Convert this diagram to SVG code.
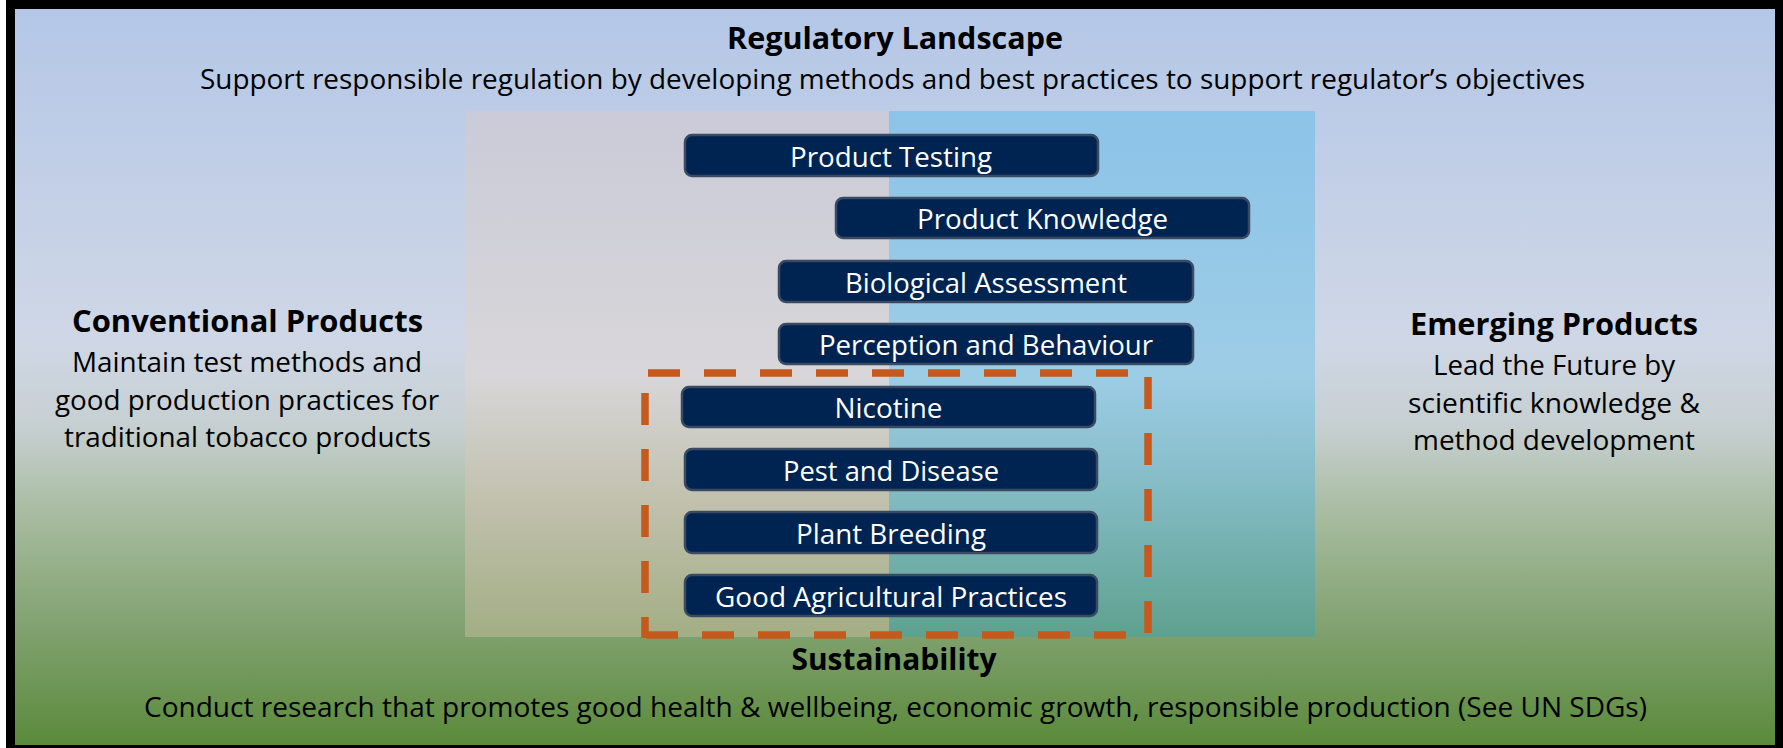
<svg xmlns="http://www.w3.org/2000/svg" width="1783" height="748" viewBox="0 0 1783 748">
<defs>
<linearGradient id="bg" x1="0" y1="9" x2="0" y2="745" gradientUnits="userSpaceOnUse">
<stop offset="0" stop-color="#b4c7e7"/>
<stop offset="0.45" stop-color="#cfd7e6"/>
<stop offset="0.57" stop-color="#c6cfd0"/>
<stop offset="0.68" stop-color="#a9bda2"/>
<stop offset="0.85" stop-color="#7fa06d"/>
<stop offset="1" stop-color="#5a8a3a"/>
</linearGradient>
<linearGradient id="pl" x1="0" y1="111" x2="0" y2="637" gradientUnits="userSpaceOnUse">
<stop offset="0" stop-color="#cacbd8"/>
<stop offset="0.5" stop-color="#d8d6d9"/>
<stop offset="0.75" stop-color="#c0c0ac"/>
<stop offset="1" stop-color="#a2ae84"/>
</linearGradient>
<linearGradient id="pr" x1="0" y1="111" x2="0" y2="637" gradientUnits="userSpaceOnUse">
<stop offset="0" stop-color="#8cc3e8"/>
<stop offset="0.5" stop-color="#9dcde6"/>
<stop offset="0.7" stop-color="#86bdc8"/>
<stop offset="1" stop-color="#5ea18f"/>
</linearGradient>
</defs>
<style>
.t{font-family:"Open Sans","Noto Sans",sans-serif;fill:#000;font-size:27.5px;text-anchor:middle}
.h{font-family:"Open Sans","Noto Sans",sans-serif;fill:#000;font-size:30px;font-weight:bold;text-anchor:middle}
.bx{fill:#002451;stroke:#3b4a62;stroke-width:2.5}
.bt{font-family:"Open Sans","Noto Sans",sans-serif;fill:#fff;font-size:27.5px;text-anchor:middle}
.dash{fill:none;stroke:#c55a1c;stroke-width:7.5;stroke-dasharray:32 24}
</style>
<rect x="0" y="0" width="1783" height="748" fill="#fff"/>
<rect x="6" y="0" width="1777" height="748" fill="#000"/>
<rect x="15" y="9" width="1760" height="736" fill="url(#bg)"/>
<g id="panel">
<rect x="465" y="111" width="424" height="526" fill="url(#pl)"/>
<rect x="889" y="111" width="426" height="526" fill="url(#pr)"/>
</g>
<g id="regulatory">
<text class="h" x="895" y="49" textLength="336" lengthAdjust="spacingAndGlyphs">Regulatory Landscape</text>
<text class="t" x="892.5" y="89" textLength="1385" lengthAdjust="spacingAndGlyphs">Support responsible regulation by developing methods and best practices to support regulator’s objectives</text>
</g>
<g id="conventional">
<text class="h" x="247.5" y="332" textLength="351" lengthAdjust="spacingAndGlyphs">Conventional Products</text>
<text class="t" x="247" y="372" textLength="350" lengthAdjust="spacingAndGlyphs">Maintain test methods and</text>
<text class="t" x="247" y="410" textLength="384" lengthAdjust="spacingAndGlyphs">good production practices for</text>
<text class="t" x="247.5" y="447" textLength="367" lengthAdjust="spacingAndGlyphs">traditional tobacco products</text>
</g>
<g id="emerging">
<text class="h" x="1554" y="335" textLength="288" lengthAdjust="spacingAndGlyphs">Emerging Products</text>
<text class="t" x="1554" y="375" textLength="242" lengthAdjust="spacingAndGlyphs">Lead the Future by</text>
<text class="t" x="1554" y="413" textLength="292" lengthAdjust="spacingAndGlyphs">scientific knowledge &amp;</text>
<text class="t" x="1554" y="450" textLength="282" lengthAdjust="spacingAndGlyphs">method development</text>
</g>
<g id="sustainability">
<text class="h" x="894" y="670" textLength="205" lengthAdjust="spacingAndGlyphs">Sustainability</text>
<text class="t" x="895.5" y="717" textLength="1503" lengthAdjust="spacingAndGlyphs">Conduct research that promotes good health &amp; wellbeing, economic growth, responsible production (See UN SDGs)</text>
</g>
<g id="connectors">
<path class="dash" d="M648,373 H1130"/>
<path class="dash" d="M1148,377 V634"/>
<path class="dash" d="M646,635 H1128"/>
<path class="dash" d="M645,393 V638"/>
</g>
<g id="product-testing">
<rect class="bx" x="685" y="135" width="413" height="41" rx="7"/>
<text class="bt" x="891" y="166.5" textLength="202" lengthAdjust="spacingAndGlyphs">Product Testing</text>
</g>
<g id="product-knowledge">
<rect class="bx" x="836" y="198" width="413" height="40" rx="7"/>
<text class="bt" x="1042.5" y="229" textLength="251" lengthAdjust="spacingAndGlyphs">Product Knowledge</text>
</g>
<g id="biological-assessment">
<rect class="bx" x="779" y="261" width="414" height="41" rx="7"/>
<text class="bt" x="986" y="292.5" textLength="282" lengthAdjust="spacingAndGlyphs">Biological Assessment</text>
</g>
<g id="perception-behaviour">
<rect class="bx" x="779" y="324" width="414" height="40" rx="7"/>
<text class="bt" x="986" y="355" textLength="334" lengthAdjust="spacingAndGlyphs">Perception and Behaviour</text>
</g>
<g id="nicotine">
<rect class="bx" x="682" y="387" width="413" height="40" rx="7"/>
<text class="bt" x="888.5" y="418" textLength="108" lengthAdjust="spacingAndGlyphs">Nicotine</text>
</g>
<g id="pest-disease">
<rect class="bx" x="685" y="449" width="412" height="41" rx="7"/>
<text class="bt" x="891" y="480.5" textLength="216" lengthAdjust="spacingAndGlyphs">Pest and Disease</text>
</g>
<g id="plant-breeding">
<rect class="bx" x="685" y="512" width="412" height="41" rx="7"/>
<text class="bt" x="891" y="543.5" textLength="190" lengthAdjust="spacingAndGlyphs">Plant Breeding</text>
</g>
<g id="good-agricultural-practices">
<rect class="bx" x="685" y="575" width="412" height="41" rx="7"/>
<text class="bt" x="891" y="606.5" textLength="352" lengthAdjust="spacingAndGlyphs">Good Agricultural Practices</text>
</g>
</svg>
